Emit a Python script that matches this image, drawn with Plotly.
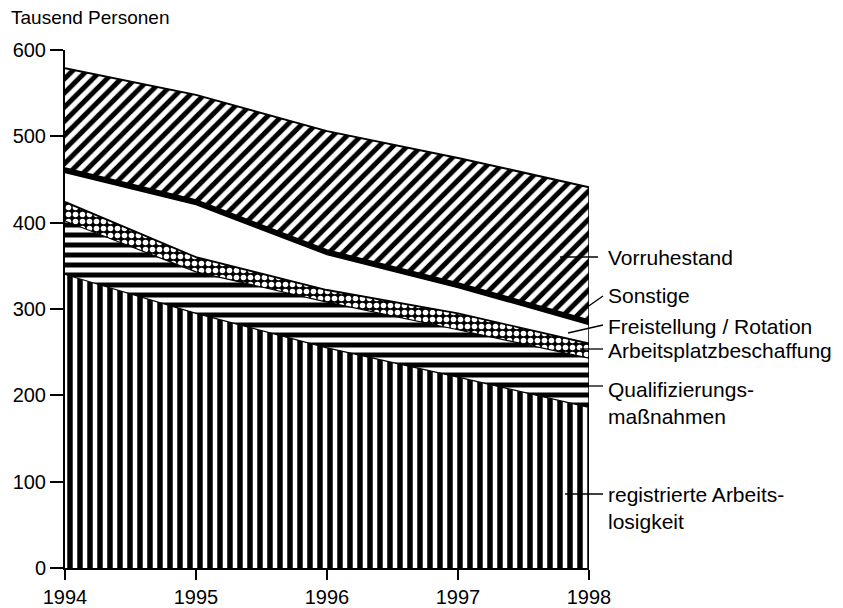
import plotly.graph_objects as go

years = [1994, 1995, 1996, 1997, 1998]
registrierte = [340, 295, 255, 221, 186]
qualifizierung = [62, 48, 53, 55, 57]
arbeitsplatz = [22, 17, 14, 19, 17]
freistellung = [34, 61, 41, 30, 22]
sonstige = [5, 5, 5, 5, 5]
vorruhestand = [116, 122, 138, 145, 154]

y_ticks = [0, 100, 200, 300, 400, 500, 600]

FONT = "Liberation Sans, Arial, Helvetica, sans-serif"

fig = go.Figure()

series = [
    ("registrierte Arbeitslosigkeit", registrierte, dict(shape="|", fgcolor="black", bgcolor="white", size=10, solidity=0.55, fgopacity=1), "white", 1.2),
    ("Qualifizierungsmaßnahmen", qualifizierung, dict(shape="-", fgcolor="black", bgcolor="white", size=10, solidity=0.5, fgopacity=1), "white", 1.2),
    ("Arbeitsplatzbeschaffung", arbeitsplatz, dict(shape=".", fgcolor="white", bgcolor="black", size=7, solidity=0.5, fgopacity=1), "black", 1.8),
    ("Freistellung / Rotation", freistellung, None, "white", 1.5),
    ("Sonstige", sonstige, None, "black", 2),
    ("Vorruhestand", vorruhestand, dict(shape="/", fgcolor="black", bgcolor="white", size=10, solidity=0.5, fgopacity=1), "white", 2),
]

for name, vals, pat, fillc, lw in series:
    kw = dict(
        x=years, y=vals, name=name, mode="lines", stackgroup="one",
        line=dict(color="black", width=lw), fillcolor=fillc,
        hoverinfo="skip", showlegend=False,
    )
    if pat:
        kw["fillpattern"] = pat
    fig.add_trace(go.Scatter(**kw))

totals = [sum(v) for v in zip(registrierte, qualifizierung, arbeitsplatz, freistellung, sonstige, vorruhestand)]

# right edge of area at 1998
fig.add_shape(type="line", xref="x", yref="y", x0=years[-1], x1=years[-1], y0=0, y1=totals[-1],
              line=dict(color="black", width=1.5))

fig.update_layout(
    width=843, height=608,
    margin=dict(l=57, r=262, t=42, b=48),
    paper_bgcolor="white", plot_bgcolor="white",
    font=dict(family=FONT, size=21, color="black"),
    xaxis=dict(range=[1994, 1998], tickvals=years, ticktext=[str(y) for y in years],
               showgrid=False, zeroline=False, showline=True, linecolor="black", linewidth=2,
               ticks="outside", ticklen=10, tickwidth=1.5, tickcolor="black",
               tickfont=dict(size=20), automargin=False),
    yaxis=dict(range=[0, 600], tickvals=y_ticks, showgrid=False, zeroline=False,
               showline=True, linecolor="black", linewidth=2,
               ticks="outside", ticklen=13, tickwidth=1.5, tickcolor="black",
               tickfont=dict(size=20), automargin=False),
)

PX = 524.0
PY = 518.0

fig.add_annotation(text="Tausend Personen", xref="paper", yref="paper", x=-56 / PX, y=(568 - 18) / PY,
                   xanchor="left", yanchor="middle", showarrow=False, font=dict(size=19))

# labels with leader lines (positions in pixel space relative to the reference layout)
labels = [
    ("Vorruhestand", 257, [(560, 257, 598, 257)]),
    ("Sonstige", 295, [(583, 310, 603, 296)]),
    ("Freistellung / Rotation", 326, [(568, 333, 603, 325)]),
    ("Arbeitsplatzbeschaffung", 350, [(580, 349, 603, 349)]),
    ("Qualifizierungs-<br>maßnahmen", 403, [(571, 386, 603, 386)]),
    ("registrierte Arbeits-<br>losigkeit", 508, [(565, 494, 603, 494)]),
]
for text, ypx, lines in labels:
    fig.add_annotation(text=text, xref="paper", yref="paper", x=(606 - 65) / PX, y=(568 - ypx) / PY,
                       xanchor="left", yanchor="middle", showarrow=False, align="left",
                       font=dict(size=21))
    for (xa, ya, xb, yb) in lines:
        fig.add_shape(type="line", xref="paper", yref="paper",
                      x0=(xa - 65) / PX, y0=(568 - ya) / PY, x1=(xb - 65) / PX, y1=(568 - yb) / PY,
                      line=dict(color="black", width=1.3))

fig.write_html("out.html")
